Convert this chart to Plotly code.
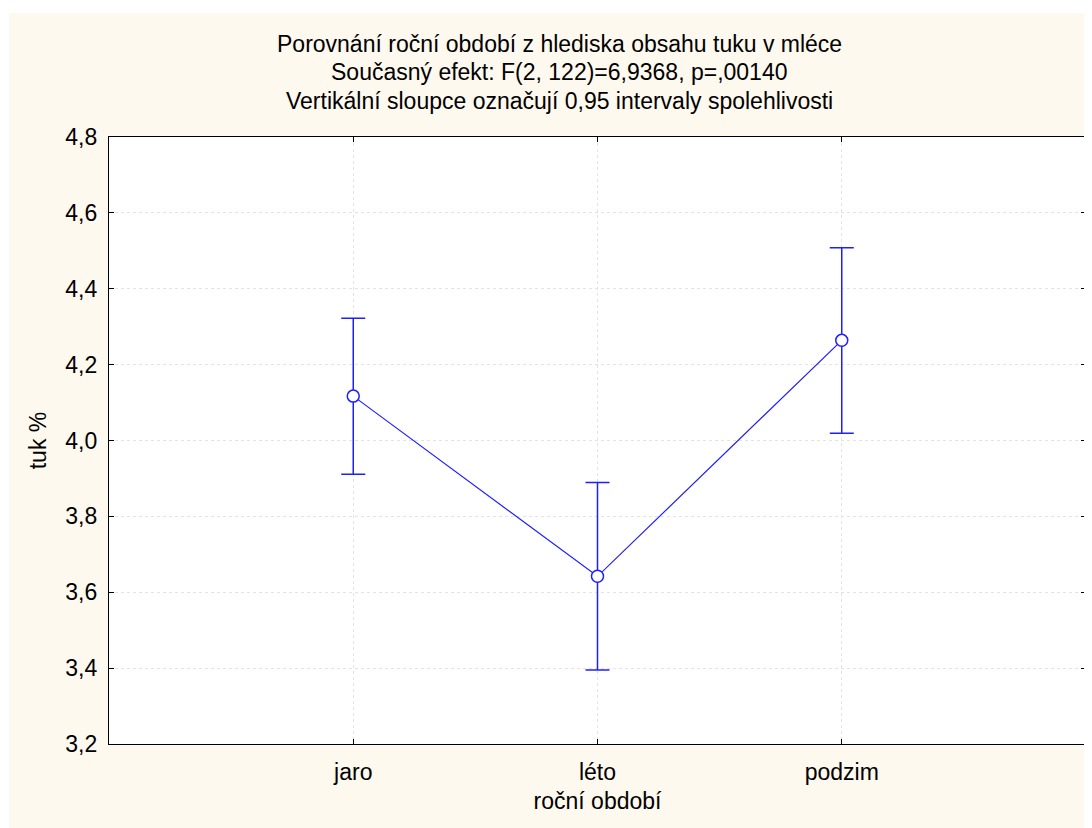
import plotly.graph_objects as go

# Data
categories = ["jaro", "léto", "podzim"]
means = [4.117, 3.642, 4.264]
ci_upper = [4.322, 3.889, 4.508]
ci_lower = [3.911, 3.395, 4.019]

y_ticks = [3.2, 3.4, 3.6, 3.8, 4.0, 4.2, 4.4, 4.6, 4.8]
y_tick_text = [f"{v:.1f}".replace(".", ",") for v in y_ticks]

title_lines = [
    "Porovnání roční období z hlediska obsahu tuku v mléce",
    "Současný efekt: F(2, 122)=6,9368, p=,00140",
    "Vertikální sloupce označují 0,95 intervaly spolehlivosti",
]

BLUE = "#1f1fff"
CREAM = "#FEF9EF"
FONT = "Liberation Sans, Arial, sans-serif"
FS = 23

W, H = 1092, 828
L, R, T, B = 101, 14, 129, 92
pw, ph = W - L - R, H - T - B

err_plus = [u - m for u, m in zip(ci_upper, means)]
err_minus = [m - l for m, l in zip(means, ci_lower)]

fig = go.Figure()
fig.add_trace(go.Scatter(
    x=categories, y=means, mode="lines+markers",
    line=dict(color=BLUE, width=1.2),
    marker=dict(symbol="circle", size=12, color="white",
                line=dict(color=BLUE, width=1.5)),
    error_y=dict(type="data", array=err_plus, arrayminus=err_minus,
                 color=BLUE, thickness=1.5, width=12),
    showlegend=False,
))

axis_common = dict(
    showline=True, linecolor="black", linewidth=1.3, mirror="ticks",
    ticks="inside", ticklen=5, tickcolor="black", tickwidth=1,
    showgrid=True, gridcolor="#e3e3e3", griddash="dot", gridwidth=1,
    zeroline=False,
    tickfont=dict(family=FONT, size=FS, color="black"),
)

fig.update_xaxes(
    type="category", range=[-1, 3], categoryorder="array",
    categoryarray=categories, ticklabelstandoff=7,
    title=dict(text="roční období", font=dict(family=FONT, size=FS, color="black"), standoff=9),
    **axis_common,
)
fig.update_yaxes(
    range=[3.2, 4.8], tickvals=y_ticks, ticktext=y_tick_text,
    ticklabelstandoff=6,
    title=dict(text="tuk %", font=dict(family=FONT, size=FS, color="black"), standoff=12),
    **axis_common,
)

annotations = []
for i, line in enumerate(title_lines):
    yc = 36 + i * 28.5
    annotations.append(dict(
        text=line, xref="paper", yref="paper",
        x=(551.5 - L) / pw, y=1 + (T - yc) / ph,
        xanchor="center", yanchor="middle", showarrow=False,
        font=dict(family=FONT, size=FS, color="black"),
    ))

shapes = [
    # thin white strips outside the cream panel (top and left)
    dict(type="rect", xref="paper", yref="paper", layer="below",
         x0=-L / pw - 0.01, x1=(1 - L) / pw, y0=-B / ph - 0.01, y1=1 + T / ph + 0.01,
         fillcolor="white", line=dict(width=0)),
    dict(type="rect", xref="paper", yref="paper", layer="below",
         x0=-L / pw - 0.01, x1=1 + R / pw + 0.01, y0=1 + (T - 5) / ph, y1=1 + T / ph + 0.01,
         fillcolor="white", line=dict(width=0)),
]

fig.update_layout(
    width=W, height=H,
    margin=dict(l=L, r=R, t=T, b=B, autoexpand=False),
    paper_bgcolor=CREAM, plot_bgcolor="white",
    font=dict(family=FONT, color="black"),
    annotations=annotations, shapes=shapes,
)

fig.write_html("out.html")
